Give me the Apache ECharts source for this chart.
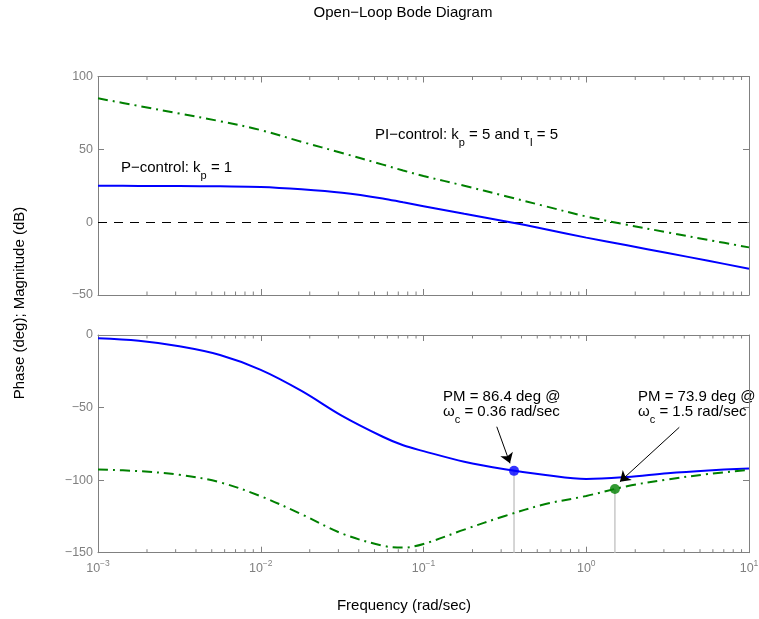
<!DOCTYPE html>
<html><head><meta charset="utf-8">
<script src="https://cdn.jsdelivr.net/npm/echarts@6/dist/echarts.min.js"></script>
<style>html,body{margin:0;padding:0;background:#fff}#c{width:759px;height:619px}</style>
</head><body><div id="c"></div>
<script>
// ---- data ----
const freq    = [0.001, 0.00178, 0.00316, 0.00562, 0.01, 0.0178, 0.0316, 0.0562, 0.075, 0.1, 0.178, 0.316, 0.562, 1, 1.78, 3.16, 5.62, 10];
const magP    = [25.0, 24.9, 24.8, 24.6, 24.2, 22.6, 20.2, 16.3, 13.6, 11.0, 5.8, 0.7, -4.8, -10.6, -15.9, -21.2, -26.5, -32.0];
const magPI   = [85.0, 79.8, 74.6, 69.3, 63.2, 55.2, 47.5, 39.5, 35.5, 31.7, 25.0, 18.0, 10.9, 3.9, -1.8, -7.0, -12.2, -17.3];
const phaseP  = [-2.3, -4.0, -7.8, -13.8, -24.0, -38.5, -55.7, -70.1, -76.0, -80.0, -87.3, -92.5, -96.5, -99.2, -97.8, -95.2, -93.3, -91.9];
const phasePI = [-92.6, -93.8, -96.3, -101.5, -111.1, -123.5, -136.8, -145.2, -146.5, -144.0, -134.1, -124.7, -116.5, -110.9, -104.2, -99.5, -95.8, -93.0];
const xTickExponents = [-3, -2, -1, 0, 1];
const magTicks   = [-50, 0, 50, 100];
const phaseTicks = [-150, -100, -50, 0];
const marginP  = { freq: 0.36, phase: -93.6 };
const marginPI = { freq: 1.5,  phase: -106.1 };
const arrowP   = [[0.282, -63.2], [0.34, -88.4]];
const arrowPI  = [[3.73, -63.6], [1.61, -101.1]];

// ---- helpers ----
const FONT = 'Liberation Sans, Arial, Helvetica, sans-serif';
const AX = '#808080';
const xMin = Math.pow(10, xTickExponents[0]);
const xMax = Math.pow(10, xTickExponents[xTickExponents.length - 1]);
const minorTicks = [];
for (let i = 0; i < xTickExponents.length - 1; i++) {
  for (let m = 2; m <= 9; m++) minorTicks.push(m * Math.pow(10, xTickExponents[i]));
}
const zip = (xs, ys) => xs.map((x, i) => [x, ys[i]]);
const minus = s => String(s).replace('-', '\u2212');

function xAx(gridIndex, position, showLabel) {
  return {
    type: 'log', logBase: 10, gridIndex, position, min: xMin, max: xMax,
    axisLine: { show: true, onZero: false, lineStyle: { color: AX, width: 1 } },
    axisTick: { show: true, inside: true, length: 6, lineStyle: { color: AX, width: 1 } },
    axisLabel: {
      show: showLabel, margin: 6, color: AX,
      formatter: v => '{b|10}{s|' + minus(Math.round(Math.log10(v))) + '}',
      rich: {
        b: { fontSize: 12.5, fontFamily: FONT, color: AX, verticalAlign: 'bottom', lineHeight: 16 },
        s: { fontSize: 8.5, fontFamily: FONT, color: AX, verticalAlign: 'top', lineHeight: 16 }
      }
    },
    splitLine: { show: false }, minorTick: { show: false }
  };
}
function yAx(gridIndex, position, ticks, showLabel) {
  return {
    type: 'value', gridIndex, position, min: ticks[0], max: ticks[ticks.length - 1], interval: ticks[1] - ticks[0],
    axisLine: { show: true, onZero: false, lineStyle: { color: AX, width: 1 } },
    axisTick: { show: true, inside: true, length: 6, lineStyle: { color: AX, width: 1 } },
    axisLabel: { show: showLabel, margin: 5, color: AX, fontSize: 12.5, fontFamily: FONT, formatter: v => minus(v) },
    splitLine: { show: false }
  };
}
function minorTickSeries(xi, yi) {
  return {
    type: 'custom', xAxisIndex: xi, yAxisIndex: yi, silent: true, clip: false, z: 1,
    data: minorTicks.map(v => [v, 0]),
    encode: { x: 0, y: 1 },
    renderItem: (params, api) => {
      const px = api.coord([api.value(0), 0])[0];
      const cs = params.coordSys;
      const top = cs.y, bot = cs.y + cs.height;
      const st = { stroke: AX, lineWidth: 1 };
      return { type: 'group', children: [
        { type: 'line', shape: { x1: px, y1: bot, x2: px, y2: bot - 3.5 }, style: st },
        { type: 'line', shape: { x1: px, y1: top, x2: px, y2: top + 3.5 }, style: st }
      ]};
    }
  };
}
const DASHDOT = [10, 5, 2, 5];
function curve(xi, yi, data, color, dash) {
  return {
    type: 'line', xAxisIndex: xi, yAxisIndex: yi, data, showSymbol: false, smooth: 0.35,
    lineStyle: { color, width: 2, type: dash || 'solid' }, itemStyle: { color },
    emphasis: { disabled: true }, z: 3
  };
}
function arrowLine(a) {
  return [{ coord: a[0] }, { coord: a[1] }];
}
function arrowMark(a) {
  return { silent: true, symbol: ['none', 'arrow'], symbolSize: 10, label: { show: false },
    emphasis: { disabled: true },
    lineStyle: { color: '#000', width: 1, type: 'solid' }, itemStyle: { color: '#000' }, data: [arrowLine(a)] };
}
const rich = {
  a: { fontSize: 15, fontFamily: FONT, color: '#000', lineHeight: 21, verticalAlign: 'top' },
  b: { fontSize: 11, fontFamily: FONT, color: '#000', lineHeight: 21, verticalAlign: 'bottom' }
};
function rtext(x, y, text) {
  return { type: 'text', x, y, silent: true, style: { text, rich, align: 'left', verticalAlign: 'top', textAlign: 'left', textVerticalAlign: 'top' } };
}
function ptext(x, y, text, rot) {
  return { type: 'text', x, y, rotation: rot || 0, silent: true,
    style: { text, font: '15px ' + FONT, fill: '#000', align: 'center', verticalAlign: 'middle', textAlign: 'center', textVerticalAlign: 'middle' } };
}

const option = {
  animation: false,
  backgroundColor: '#fff',
  grid: [
    { left: 98, top: 76.5, right: 10, height: 218.5, outerBoundsMode: 'none', containLabel: false },
    { left: 98, top: 335, right: 10, height: 217.7, outerBoundsMode: 'none', containLabel: false }
  ],
  xAxis: [xAx(0, 'bottom', false), xAx(0, 'top', false), xAx(1, 'bottom', true), xAx(1, 'top', false)],
  yAxis: [yAx(0, 'left', magTicks, true), yAx(0, 'right', magTicks, false), yAx(1, 'left', phaseTicks, true), yAx(1, 'right', phaseTicks, false)],
  series: [
    minorTickSeries(0, 0),
    minorTickSeries(2, 2),
    Object.assign(curve(0, 0, zip(freq, magP), '#0000ff'), {
      markLine: { silent: true, symbol: 'none', label: { show: false }, z: 2,
        lineStyle: { color: '#000', type: [9, 7], width: 1 }, data: [{ yAxis: 0 }] }
    }),
    curve(0, 0, zip(freq, magPI), '#008000', DASHDOT),
    // crossover guide lines
    { type: 'line', xAxisIndex: 2, yAxisIndex: 2, showSymbol: false, z: 2, emphasis: { disabled: true },
      lineStyle: { color: '#c8c8c8', width: 1.5 }, data: [[marginP.freq, phaseTicks[0]], [marginP.freq, marginP.phase]] },
    { type: 'line', xAxisIndex: 2, yAxisIndex: 2, showSymbol: false, z: 2, emphasis: { disabled: true },
      lineStyle: { color: '#c8c8c8', width: 1.5 }, data: [[marginPI.freq, phaseTicks[0]], [marginPI.freq, marginPI.phase]] },
    curve(2, 2, zip(freq, phaseP), '#0000ff'),
    curve(2, 2, zip(freq, phasePI), '#008000', DASHDOT),
    { type: 'scatter', xAxisIndex: 2, yAxisIndex: 2, symbolSize: 10, z: 5, emphasis: { disabled: true },
      itemStyle: { color: '#0000ff' }, data: [[marginP.freq, marginP.phase]], markLine: arrowMark(arrowP) },
    { type: 'scatter', xAxisIndex: 2, yAxisIndex: 2, symbolSize: 10, z: 5, emphasis: { disabled: true },
      itemStyle: { color: '#008000' }, data: [[marginPI.freq, marginPI.phase]], markLine: arrowMark(arrowPI) }
  ],
  graphic: { elements: [
    ptext(403, 12.5, 'Open\u2212Loop Bode Diagram'),
    ptext(20, 303, 'Phase (deg); Magnitude (dB)', Math.PI / 2),
    ptext(404, 606, 'Frequency (rad/sec)'),
    rtext(121, 160, '{a|P\u2212control: k}{b|p}{a| = 1}'),
    rtext(375, 127, '{a|PI\u2212control: k}{b|p}{a| = 5 and \u03c4}{b|I}{a| = 5}'),
    rtext(443, 389, '{a|PM = 86.4 deg @}'),
    rtext(443, 404, '{a|\u03c9}{b|c}{a| = 0.36 rad/sec}'),
    rtext(638, 389, '{a|PM = 73.9 deg @}'),
    rtext(638, 404, '{a|\u03c9}{b|c}{a| = 1.5 rad/sec}')
  ]}
};
const chart = echarts.init(document.getElementById('c'), null, { renderer: 'canvas' });
chart.setOption(option);
</script>
</body></html>
